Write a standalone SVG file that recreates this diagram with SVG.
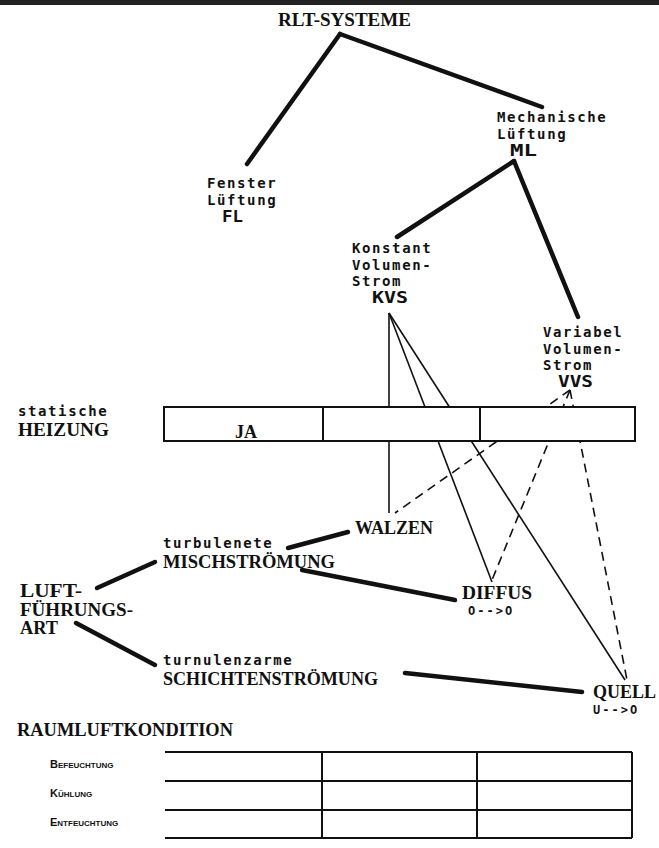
<svg xmlns="http://www.w3.org/2000/svg" width="659" height="848" viewBox="0 0 659 848">
<style>
.mono{font-family:"DejaVu Sans Mono","Liberation Mono",monospace;font-weight:bold;font-size:14px;letter-spacing:1.6px;fill:#111}
.abbr{font-family:"DejaVu Sans Mono","Liberation Mono",monospace;font-weight:bold;font-size:15px;fill:#111}
.cap{font-family:"Liberation Serif","DejaVu Serif",serif;font-weight:bold;font-size:18px;fill:#111}
.arrow{font-family:"DejaVu Sans Mono","Liberation Mono",monospace;font-weight:bold;font-size:12px;letter-spacing:2px;fill:#111}
.sc{font-family:"Liberation Sans","DejaVu Sans",sans-serif;font-weight:bold;font-size:11px;font-variant:small-caps;fill:#111}
.thick{stroke:#111;stroke-width:4.5;stroke-linecap:round;fill:none}
.thin{stroke:#111;stroke-width:1.6;fill:none}
.dash{stroke:#111;stroke-width:1.6;fill:none;stroke-dasharray:9 6}
.box{fill:#fff;stroke:#111;stroke-width:2}
.rule{stroke:#111;stroke-width:2;fill:none}
</style>
<rect x="0" y="0" width="659" height="848" fill="#fff"/>
<rect x="0" y="0" width="659" height="5" fill="#222"/>
<g id="connectors">
<line class="thick" x1="340" y1="34" x2="247" y2="164"/>
<line class="thick" x1="340" y1="34" x2="542" y2="107"/>
<line class="thick" x1="514" y1="161" x2="397" y2="237"/>
<line class="thick" x1="514" y1="161" x2="578" y2="317"/>
<line class="thin" x1="389" y1="313" x2="389" y2="513"/>
<line class="thin" x1="389" y1="313" x2="492" y2="582"/>
<line class="thin" x1="389" y1="313" x2="625" y2="680"/>
<line class="dash" x1="570" y1="390" x2="395" y2="513"/>
<line class="dash" x1="570" y1="390" x2="492" y2="580"/>
<line class="dash" x1="570" y1="390" x2="627" y2="680"/>
<line class="thick" x1="288" y1="548" x2="348" y2="532"/>
<line class="thick" x1="97" y1="588" x2="155" y2="562"/>
<line class="thick" x1="76" y1="623" x2="155" y2="665"/>
<line class="thick" x1="302" y1="570" x2="455" y2="600"/>
<line class="thick" x1="405" y1="673" x2="582" y2="692"/>
</g>
<g id="rlt-systeme"><text class="cap" x="278" y="26" font-size="18.5" textLength="133" lengthAdjust="spacingAndGlyphs">RLT-SYSTEME</text></g>
<g id="fenster"><text class="mono" x="207" y="188">Fenster</text><text class="mono" x="207" y="205">Lüftung</text><text class="abbr" x="222" y="222" textLength="21" lengthAdjust="spacingAndGlyphs">FL</text></g>
<g id="mechanische"><text class="mono" x="497" y="122">Mechanische</text><text class="mono" x="497" y="138.5">Lüftung</text><text class="abbr" x="510" y="156" textLength="27" lengthAdjust="spacingAndGlyphs">ML</text></g>
<g id="kvs"><text class="mono" x="352" y="253">Konstant</text><text class="mono" x="352" y="269.5">Volumen-</text><text class="mono" x="352" y="286">Strom</text><text class="abbr" x="372" y="303" textLength="36" lengthAdjust="spacingAndGlyphs">KVS</text></g>
<g id="vvs"><text class="mono" x="543" y="337">Variabel</text><text class="mono" x="543" y="353.5">Volumen-</text><text class="mono" x="543" y="370">Strom</text><text class="abbr" x="558" y="386.5" textLength="35" lengthAdjust="spacingAndGlyphs">VVS</text></g>
<g id="heizung">
<text class="mono" x="18" y="416" letter-spacing="1">statische</text>
<text class="cap" x="18" y="436" font-size="17.5" textLength="91" lengthAdjust="spacingAndGlyphs">HEIZUNG</text>
<rect class="box" x="164" y="407" width="471" height="34"/>
<line class="rule" x1="323" y1="407" x2="323" y2="441"/>
<line class="rule" x1="480" y1="407" x2="480" y2="441"/>
<text class="cap" x="246" y="438" font-size="17" text-anchor="middle">JA</text>
</g>
<g id="walzen"><text class="cap" x="355" y="534">WALZEN</text></g>
<g id="misch"><text class="mono" x="163" y="547.5" letter-spacing="1">turbulenete</text><text class="cap" x="163" y="568" font-size="18.5" textLength="172" lengthAdjust="spacingAndGlyphs">MISCHSTRÖMUNG</text></g>
<g id="luftfuehrung"><text class="cap" x="20" y="597" font-size="14.5" textLength="62" lengthAdjust="spacingAndGlyphs">LUFT-</text><text class="cap" x="20" y="615.5" font-size="14.5" textLength="113" lengthAdjust="spacingAndGlyphs">FÜHRUNGS-</text><text class="cap" x="20" y="634" font-size="14.5" textLength="38" lengthAdjust="spacingAndGlyphs">ART</text></g>
<g id="diffus"><text class="cap" x="462" y="599" font-size="19" textLength="70" lengthAdjust="spacingAndGlyphs">DIFFUS</text><text class="arrow" x="468" y="615">O--&gt;O</text></g>
<g id="schicht"><text class="mono" x="163" y="664.5" letter-spacing="1.2">turnulenzarme</text><text class="cap" x="163" y="685" textLength="215" lengthAdjust="spacingAndGlyphs">SCHICHTENSTRÖMUNG</text></g>
<g id="quell"><text class="cap" x="593" y="698" font-size="19">QUELL</text><text class="arrow" x="593" y="714">U--&gt;O</text></g>
<g id="raumluft">
<text class="cap" x="17" y="736" textLength="216" lengthAdjust="spacingAndGlyphs">RAUMLUFTKONDITION</text>
<line class="rule" x1="165" y1="752" x2="632" y2="752"/>
<line class="rule" x1="165" y1="781" x2="632" y2="781"/>
<line class="rule" x1="165" y1="810" x2="632" y2="810"/>
<line class="rule" x1="165" y1="838" x2="632" y2="838"/>
<line class="rule" x1="322" y1="752" x2="322" y2="838"/>
<line class="rule" x1="477" y1="752" x2="477" y2="838"/>
<line class="rule" x1="632" y1="752" x2="632" y2="838"/>
<text class="sc" x="50" y="768">Befeuchtung</text>
<text class="sc" x="50" y="797">Kühlung</text>
<text class="sc" x="50" y="826">Entfeuchtung</text>
</g>
</svg>
